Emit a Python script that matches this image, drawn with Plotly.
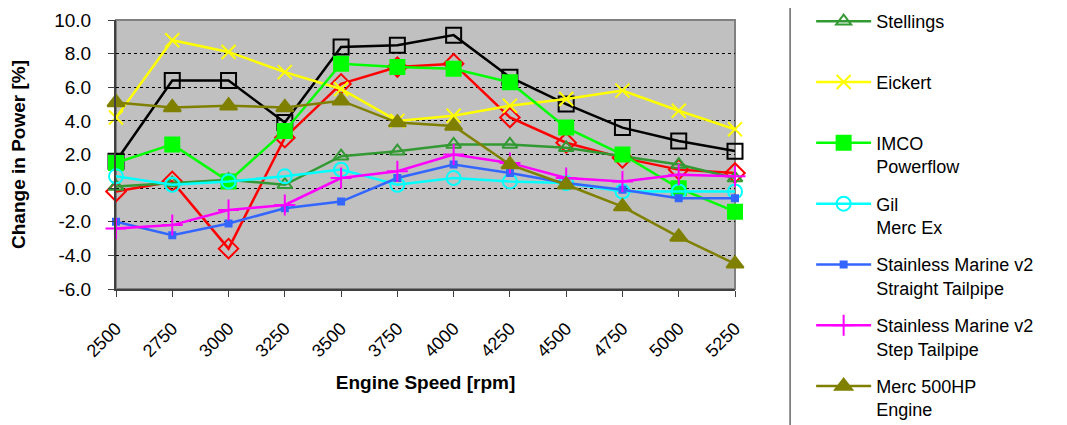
import plotly.graph_objects as go

rpm = [2500, 2750, 3000, 3250, 3500, 3750, 4000, 4250, 4500, 4750, 5000, 5250]
y_ticks = [10, 8, 6, 4, 2, 0, -2, -4, -6]

black_series = [1.6, 6.4, 6.4, 3.9, 8.4, 8.5, 9.1, 6.6, 5.0, 3.6, 2.8, 2.2]
red_series = [-0.2, 0.4, -3.6, 3.0, 6.2, 7.2, 7.4, 4.2, 2.7, 1.8, 1.1, 0.9]
stellings = [0.1, 0.3, 0.5, 0.2, 1.9, 2.2, 2.6, 2.6, 2.4, 1.9, 1.4, 0.6]
eickert = [4.2, 8.8, 8.1, 6.9, 5.9, 4.0, 4.3, 4.9, 5.3, 5.8, 4.6, 3.5]
imco = [1.5, 2.6, 0.4, 3.4, 7.4, 7.2, 7.1, 6.3, 3.6, 2.0, 0.0, -1.4]
gil = [0.7, 0.2, 0.4, 0.7, 1.1, 0.2, 0.6, 0.4, 0.3, -0.2, -0.2, -0.2]
sm_straight = [-2.0, -2.8, -2.1, -1.2, -0.8, 0.6, 1.4, 0.9, 0.3, -0.1, -0.6, -0.6]
sm_step = [-2.4, -2.2, -1.3, -1.0, 0.6, 1.0, 2.0, 1.5, 0.6, 0.4, 0.8, 0.7]
merc = [5.1, 4.8, 4.9, 4.8, 5.2, 3.9, 3.7, 1.4, 0.2, -1.1, -2.9, -4.5]

series = [
    # (values, name, color, symbol, size, show in legend)
    (black_series, "", "#000000", "square-open", 15, False),
    (red_series, "", "#FF0000", "diamond-open", 15, False),
    (stellings, "Stellings<br> ", "#339933", "triangle-up-open", 13, True),
    (eickert, "Eickert<br> ", "#FFFF00", "x-thin-open", 14, True),
    (imco, "IMCO<br>Powerflow", "#00FF00", "square", 14, True),
    (gil, "Gil<br>Merc Ex", "#00FFFF", "circle-open", 14, True),
    (sm_straight, "Stainless Marine v2<br>Straight Tailpipe", "#3366FF", "square", 6, True),
    (sm_step, "Stainless Marine v2<br>Step Tailpipe", "#FF00FF", "cross-thin-open", 15, True),
    (merc, "Merc 500HP<br>Engine", "#808000", "triangle-up", 15, True),
]

fig = go.Figure()
for i, (vals, name, color, symbol, size, show) in enumerate(series):
    fig.add_trace(go.Scatter(
        x=rpm, y=vals, name=name, mode="lines+markers",
        line=dict(color=color, width=2.5),
        marker=dict(symbol=symbol, size=size, color=color,
                    line=dict(color=color, width=2)),
        showlegend=show, legendgroup=f"g{i}", cliponaxis=False,
    ))

fig.update_layout(
    width=1059, height=417,
    margin=dict(l=108, r=332, t=12, b=136, autoexpand=False),
    paper_bgcolor="white",
    plot_bgcolor="#C0C0C0",
    font=dict(family="Liberation Sans, Arial, sans-serif", size=18, color="black"),
    showlegend=True,
    legend=dict(
        x=1.123, y=1.063, xanchor="left", yanchor="top",
        traceorder="grouped", tracegroupgap=11, itemwidth=55,
        valign="top", bgcolor="rgba(0,0,0,0)",
        font=dict(size=18), maxheight=600,
    ),
    shapes=[
        dict(type="rect", xref="paper", yref="paper", x0=0, x1=1, y0=0, y1=1,
             line=dict(color="#808080", width=2), layer="below"),
        dict(type="line", xref="paper", yref="paper", x0=1.089, x1=1.089,
             y0=-0.6, y1=1.2, line=dict(color="#404040", width=1.2)),
    ],
)

fig.update_xaxes(
    range=[2500, 5250], tickmode="array", tickvals=rpm,
    ticktext=[str(v) for v in rpm], tickangle=-45,
    ticks="outside", ticklen=6, tickcolor="#404040",
    showline=True, linecolor="#404040", linewidth=2,
    showgrid=False, zeroline=False, ticklabelstandoff=14,
    tickfont=dict(size=18),
    title=dict(text="<b>Engine Speed [rpm]</b>", font=dict(size=19), standoff=16),
)
fig.update_yaxes(
    range=[-6, 10], tickmode="array", tickvals=y_ticks,
    ticktext=[f"{v:.1f}" for v in y_ticks],
    ticks="outside", ticklen=6, tickcolor="#404040",
    showline=True, linecolor="#404040", linewidth=2,
    showgrid=True, gridcolor="#000000", griddash="dot", gridwidth=1,
    zeroline=False, ticklabelstandoff=13,
    tickfont=dict(size=19),
    title=dict(text="<b>Change in Power [%]</b>", font=dict(size=19), standoff=24),
)

fig.write_html("out.html")
